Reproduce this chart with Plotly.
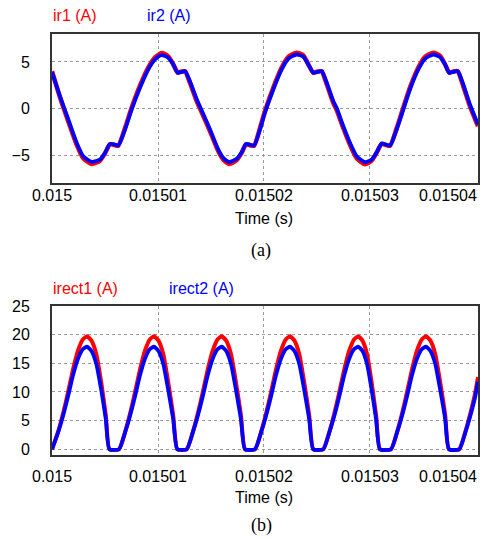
import plotly.graph_objects as go
from plotly.subplots import make_subplots

# ---------------- data (time offsets in microseconds from 0.015 s) ----------------
T0 = 0.015
t_a_us = [0, 0.75, 1.54, 2.33, 2.95, 3.75, 4.53, 5.0, 5.47, 5.94, 6.25, 6.89, 7.52, 8.30, 9.08, 9.72,
          10.35, 10.97, 11.44, 11.86, 12.24, 12.55, 13.02, 13.65, 14.06, 14.91, 15.69, 16.16, 16.73,
          17.42, 17.90, 18.30, 18.68, 19.06, 19.62, 20.09, 20.88, 21.67, 22.29, 23.08, 23.71, 24.18,
          24.65, 25.07, 25.44, 25.92, 26.54, 26.85, 27.48, 28.11, 28.75, 29.53, 30.16, 30.63, 31.10,
          31.51, 31.89, 32.52, 32.99, 33.77, 34.56, 35.19, 35.97, 36.60, 37.08, 37.48, 37.86, 38.27,
          38.80, 39.43, 40.19]
ir2 = [3.9, 1.32, -1.18, -3.69, -5.13, -5.73, -5.48, -4.77, -3.8, -3.87, -3.98, -2.26, -0.1, 2.22,
       4.19, 5.27, 5.73, 5.45, 4.73, 3.84, 3.94, 4.01, 2.9, 1.0, -0.05, -2.26, -4.41, -5.3, -5.73,
       -5.4, -4.7, -3.8, -3.87, -3.98, -2.26, -0.46, 2.04, 4.19, 5.34, 5.8, 5.56, 4.73, 3.84, 3.94,
       4.01, 2.76, 0.79, 0.07, -1.9, -3.69, -5.13, -5.77, -5.48, -4.7, -3.76, -3.87, -3.98, -2.26,
       -0.65, 2.04, 4.19, 5.34, 5.8, 5.52, 4.73, 3.84, 3.94, 4.01, 2.58, 0.43, -1.72]
ir1 = [4.0, 1.2, -1.4, -3.9, -5.35, -5.95, -5.6, -4.8, -3.85, -3.95, -4.0, -2.1, 0.1, 2.45,
       4.4, 5.5, 5.95, 5.6, 4.75, 3.85, 3.97, 4.0, 2.75, 0.8, -0.25, -2.45, -4.6, -5.5, -5.95,
       -5.55, -4.75, -3.85, -3.95, -4.0, -2.1, -0.3, 2.25, 4.4, 5.55, 6.0, 5.7, 4.75, 3.85, 3.97,
       4.0, 2.6, 0.6, -0.15, -2.1, -3.9, -5.35, -5.98, -5.6, -4.75, -3.8, -3.92, -4.0, -2.1,
       -0.45, 2.25, 4.4, 5.55, 6.0, 5.68, 4.75, 3.85, 3.97, 4.0, 2.4, 0.25, -1.9]

t_b_us = [0, 0.57, 1.04, 1.51, 1.98, 2.45, 2.92, 3.30, 3.71, 4.18, 4.65, 5.08, 5.42,
          6.32, 6.89, 7.36, 7.83, 8.30, 8.77, 9.24, 9.62, 10.03, 10.50, 10.97, 11.44, 11.82,
          12.71, 13.28, 13.75, 14.22, 14.69, 15.16, 15.63, 16.01, 16.42, 16.89, 17.36, 17.83, 18.21,
          19.15, 19.72, 20.19, 20.66, 21.13, 21.60, 22.07, 22.45, 22.86, 23.33, 23.80, 24.27, 24.65,
          25.59, 26.16, 26.63, 27.10, 27.57, 28.04, 28.51, 28.89, 29.28, 29.72, 30.16, 30.58, 30.94,
          31.98, 32.55, 33.02, 33.49, 33.96, 34.43, 34.90, 35.28, 35.69, 36.16, 36.63, 37.10, 37.45,
          38.42, 38.99, 39.46, 39.93, 40.19]
irect2 = [0, 2.9, 5.8, 9.2, 12.9, 15.8, 17.5, 17.9, 17.2, 14.9, 10.3, 5.2, 0,
          0, 2.9, 5.8, 9.2, 12.9, 15.8, 17.5, 17.9, 17.2, 14.9, 10.3, 5.2, 0,
          0, 2.9, 5.8, 9.2, 12.9, 15.8, 17.5, 17.9, 17.2, 14.9, 10.3, 5.2, 0,
          0, 2.9, 5.8, 9.2, 12.9, 15.8, 17.5, 17.9, 17.2, 14.9, 10.3, 5.2, 0,
          0, 2.9, 5.8, 9.2, 12.9, 15.8, 17.5, 17.9, 17.2, 14.9, 10.3, 5.2, 0,
          0, 2.9, 5.8, 9.2, 12.9, 15.8, 17.5, 17.9, 17.2, 14.9, 10.3, 5.2, 0,
          0, 2.9, 5.8, 9.2, 11.8]
irect1 = [0, 3.0, 6.2, 9.9, 13.9, 17.2, 19.2, 19.7, 19.0, 16.6, 11.6, 5.9, 0,
          0, 3.0, 6.2, 9.9, 13.9, 17.2, 19.2, 19.7, 19.0, 16.6, 11.6, 5.9, 0,
          0, 3.0, 6.2, 9.9, 13.9, 17.2, 19.2, 19.7, 19.0, 16.6, 11.6, 5.9, 0,
          0, 3.0, 6.2, 9.9, 13.9, 17.2, 19.2, 19.7, 19.0, 16.6, 11.6, 5.9, 0,
          0, 3.0, 6.2, 9.9, 13.9, 17.2, 19.2, 19.7, 19.0, 16.6, 11.6, 5.9, 0,
          0, 3.0, 6.2, 9.9, 13.9, 17.2, 19.2, 19.7, 19.0, 16.6, 11.6, 5.9, 0,
          0, 3.0, 6.2, 9.9, 12.6]

x_tickvals = [0.015, 0.01501, 0.01502, 0.01503, 0.01504]
x_ticktext = ["0.015", "0.01501", "0.01502", "0.01503", "0.01504"]
ya_tickvals = [-5, 0, 5]
yb_tickvals = [0, 5, 10, 15, 20, 25]

assert len(t_a_us) == len(ir1) == len(ir2)
assert len(t_b_us) == len(irect1) == len(irect2)

t_a = [T0 + u * 1e-6 for u in t_a_us]
t_b = [T0 + u * 1e-6 for u in t_b_us]
x_end = T0 + 40.19e-6

# ---------------- figure ----------------
W, H = 492, 539
ML, MR, MT, MB = 52, 14, 34, 84
PH = H - MT - MB

def py(p):  # pixel y -> paper y
    return (H - MB - p) / PH

def px(p):  # pixel x -> paper x
    return (p - ML) / (W - ML - MR)

fig = make_subplots(rows=2, cols=1, vertical_spacing=0.0)
RED, BLUE = "#FF0000", "#0000FF"

fig.add_trace(go.Scatter(x=t_a, y=ir1, mode="lines", line=dict(color=RED, width=4.5, shape="spline", smoothing=0.6),
                         showlegend=False), row=1, col=1)
fig.add_trace(go.Scatter(x=t_a, y=ir2, mode="lines", line=dict(color=BLUE, width=3.8, shape="spline", smoothing=0.6),
                         showlegend=False), row=1, col=1)
fig.add_trace(go.Scatter(x=t_b, y=irect1, mode="lines", line=dict(color=RED, width=4, shape="spline", smoothing=0.5),
                         showlegend=False), row=2, col=1)
fig.add_trace(go.Scatter(x=t_b, y=irect2, mode="lines", line=dict(color=BLUE, width=3.8, shape="spline", smoothing=0.5),
                         showlegend=False), row=2, col=1)

font = dict(family="Liberation Sans, Arial, sans-serif", size=16, color="black")
common_x = dict(range=[T0, x_end], tickvals=x_tickvals[:4], showticklabels=False, showgrid=True,
                gridcolor="#9a9a9a", griddash="dot", gridwidth=1, zeroline=False,
                showline=True, mirror=True, linecolor="#333333", linewidth=2, ticks="")
common_y = dict(showgrid=True, gridcolor="#9a9a9a", griddash="dot", gridwidth=1, zeroline=False,
                showline=True, mirror=True, linecolor="#333333", linewidth=2,
                ticks="outside", ticklen=17, tickcolor="rgba(0,0,0,0)", tickfont=font)

fig.update_xaxes(**common_x)
fig.update_yaxes(**common_y)
fig.update_yaxes(range=[-8, 8], tickvals=ya_tickvals, domain=[py(183), 1.0], row=1, col=1)
fig.update_yaxes(range=[-1, 25], tickvals=yb_tickvals, domain=[0.0, py(306)], row=2, col=1)

ann = []
def text(s, x, y, xref="paper", xanchor="center", color="black", f=None):
    ann.append(dict(text=s, x=x, y=y, xref=xref, yref="paper", xanchor=xanchor, yanchor="middle",
                    showarrow=False, font=f or dict(font, color=color)))

# series labels
text("ir1 (A)", px(51), py(15.5), xanchor="left", color=RED)
text("ir2 (A)", px(145), py(15.5), xanchor="left", color=BLUE)
text("irect1 (A)", px(51), py(288.5), xanchor="left", color=RED)
text("irect2 (A)", px(167), py(288.5), xanchor="left", color=BLUE)

# x tick labels
for (xr, yy) in (("x", 195), ("x2", 476)):
    for v, s in zip(x_tickvals[:4], x_ticktext[:4]):
        text(s, v, py(yy), xref=xr)
    text(x_ticktext[4], px(479), py(yy), xanchor="right")

text("Time (s)", px(264), py(218.5))
text("Time (s)", px(264), py(497.5))
serif = dict(family="Liberation Serif, Times New Roman, serif", size=18, color="black")
text("(a)", px(261), py(251), f=serif)
text("(b)", px(261), py(525.5), f=serif)

fig.update_layout(width=W, height=H, margin=dict(l=ML, r=MR, t=MT, b=MB),
                  paper_bgcolor="white", plot_bgcolor="white", annotations=ann, font=font)

fig.write_html("out.html")
